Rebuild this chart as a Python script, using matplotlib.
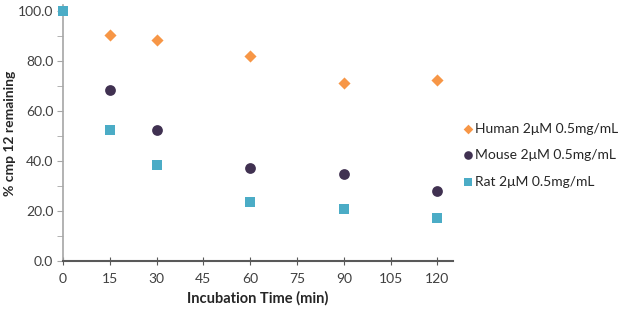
import numpy as np
from matplotlib import pyplot as plt
from matplotlib.ticker import MultipleLocator

plt.rcParams['font.family'] = ['Lato', 'DejaVu Sans']

# % cmp 12 remaining vs incubation time
time_human = [15, 30, 60, 90, 120]
human = [90.3, 88.4, 82.1, 71.3, 72.4]

time_mouse = [15, 30, 60, 90, 120]
mouse = [68.5, 52.2, 37.0, 34.6, 27.8]

time_rat = [0, 15, 30, 60, 90, 120]
rat = [100.0, 52.2, 38.4, 23.4, 20.6, 17.0]

labels = ["Human 2μM 0.5mg/mL", "Mouse 2μM 0.5mg/mL", "Rat 2μM 0.5mg/mL"]

fig = plt.figure(figsize=(6.27, 3.10), dpi=100)
ax = fig.add_axes([0.1005, 0.159, 0.622, 0.825])

ax.scatter(time_human, human, marker="D", s=38, color="#F79646",
           label=labels[0], zorder=3, linewidths=0, clip_on=False)
ax.scatter(time_mouse, mouse, marker="o", s=60, color="#403151",
           label=labels[1], zorder=3, linewidths=0, clip_on=False)
ax.scatter(time_rat, rat, marker="s", s=60, color="#4BACC6",
           label=labels[2], zorder=3, linewidths=0, clip_on=False)

ax.set_xlim(0, 125)
ax.set_ylim(0, 102.5)
ax.set_xticks(np.arange(0, 121, 15))
ax.set_yticks(np.arange(0, 101, 20))
ax.yaxis.set_minor_locator(MultipleLocator(10))
ax.set_yticklabels([f"{v:.1f}" for v in np.arange(0, 101, 20)])

for s in ["top", "right"]:
    ax.spines[s].set_visible(False)
ax.spines["left"].set_color("#A6A6A6")
ax.spines["bottom"].set_color("#595959")
ax.spines["bottom"].set_linewidth(1.5)
ax.spines["left"].set_linewidth(1.2)

ax.tick_params(axis="y", which="both", direction="out", length=4,
               color="#A6A6A6", labelsize=10, labelcolor="#404040", pad=3)
ax.tick_params(axis="x", direction="inout", length=6, color="#595959",
               labelsize=10, labelcolor="#404040", pad=6)

ax.set_xlabel("Incubation Time (min)", fontweight="bold", fontsize=10.5,
              color="#262626", labelpad=4)
fig.text(10 / 627, 0.57, "% cmp 12 remaining", rotation=90, ha="center",
         va="center", fontweight="bold", fontsize=10, color="#262626")

ax.legend(loc="center left", bbox_to_anchor=(1.0, 0.413), frameon=False,
          fontsize=10, handletextpad=0.05, labelspacing=1.05,
          markerscale=0.8, handlelength=1.0, borderaxespad=0.15,
          labelcolor="#262626")

fig.savefig("out.png", dpi=100)
